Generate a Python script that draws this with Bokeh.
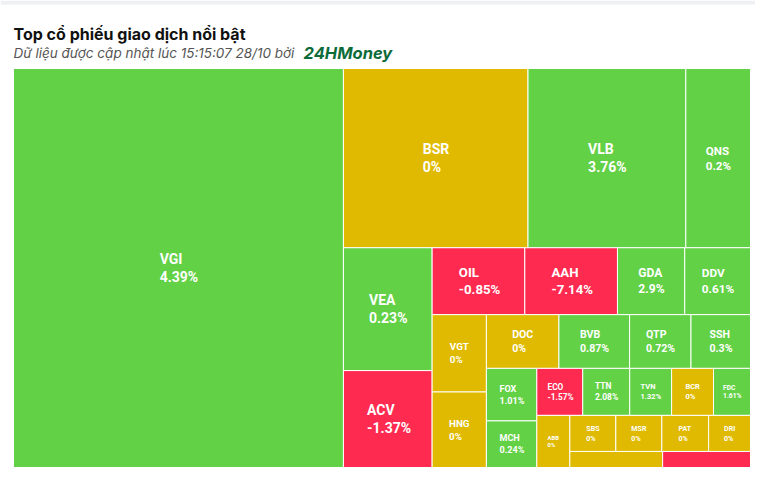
from bokeh.plotting import figure
from bokeh.models import ColumnDataSource, Range1d, BoxAnnotation
from bokeh.core.properties import value
from bokeh.embed import file_html
from bokeh.resources import INLINE

# ---------------- data ----------------
tickers = ["VGI", "BSR", "VLB", "QNS", "VEA", "ACV", "OIL", "AAH", "GDA", "DDV",
           "VGT", "HNG", "DOC", "BVB", "QTP", "SSH", "FOX", "MCH", "ECO", "TTN",
           "TVN", "BCR", "FDC", "ABB", "SBS", "MSR", "PAT", "DRI", "", ""]
volumes = [1317, 331, 283, 116, 109, 86, 62, 62, 45, 44,
           42, 41, 39, 38, 33, 32, 26.5, 23.5, 21.6, 22.1,
           19.7, 19.7, 17.4, 17.2, 16.6, 16.6, 16.9, 15.1, 14.9, 14.1]
changes = [4.39, 0, 3.76, 0.2, 0.23, -1.37, -0.85, -7.14, 2.9, 0.61,
           0, 0, 0, 0.87, 0.72, 0.3, 1.01, 0.24, -1.57, 2.08,
           1.32, 0, 1.61, 0, 0, 0, 0, 0, 0, -1.0]

title_text = "Top cổ phiếu giao dịch nổi bật"
subtitle_text = "Dữ liệu được cập nhật lúc 15:15:07 28/10 bởi"
brand_text = "24HMoney"

# ---------------- layout (Highcharts-like squarified) ----------------
TW, TH = 737.0, 399.0


class Group:
    def __init__(self, h, w, d):
        self.height, self.width, self.direction = h, w, d
        self.total = 0.0
        self.nW = self.lW = self.nH = self.lH = 0.0
        self.el = []
        self.lR = float("nan")
        self.nR = float("nan")

    def add(self, a):
        lp = self.el[-1] if self.el else None
        self.total += a
        nan = float("nan")
        if self.direction == 0:
            self.lW = self.nW
            self.nW = self.total / self.height
            if lp is not None and self.lW > 0:
                lH = lp / self.lW
                self.lR = max(self.lW / lH, lH / self.lW)
                nH = lp / self.nW
                self.nR = max(self.nW / nH, nH / self.nW)
            else:
                self.lR = self.nR = nan
        else:
            self.lH = self.nH
            self.nH = self.total / self.width
            if lp is not None and self.lH > 0:
                lW = lp / self.lH
                self.lR = max(lW / self.lH, self.lH / lW)
                nW = lp / self.nH
                self.nR = max(nW / self.nH, self.nH / nW)
            else:
                self.lR = self.nR = nan
        self.el.append(a)

    def reset(self):
        self.nW = self.lW = 0.0
        self.el = []
        self.total = 0.0


def squarified(vals, W, H):
    tot = float(sum(vals))
    areas = [W * H * v / tot for v in vals]
    rects = []
    g = Group(H, W, 0)
    pos = {"x": 0.0, "y": 0.0}

    def calc(last):
        gW, gH = g.lW, g.lH
        keep = None
        if last:
            gW, gH = g.nW, g.nH
        else:
            keep = g.el[-1]
        end = len(g.el) - 1
        for i, a in enumerate(g.el):
            if last or i < end:
                if g.direction == 0:
                    pw = gW
                    ph = a / pw
                    rects.append((pos["x"], pos["y"], pw, ph))
                    pos["y"] += ph
                else:
                    ph = gH
                    pw = a / ph
                    rects.append((pos["x"], pos["y"], pw, ph))
                    pos["x"] += pw
        g.reset()
        if g.direction == 0:
            g.width -= gW
        else:
            g.height -= gH
        pos["y"] = H - g.height
        pos["x"] = W - g.width
        g.direction = 1 - g.direction
        if not last:
            g.add(keep)

    n = len(areas)
    for i, a in enumerate(areas):
        g.add(a)
        if g.nR > g.lR:
            calc(False)
        if i == n - 1:
            calc(True)
    return rects


rects = squarified(volumes, TW, TH)

GREEN, YELLOW, RED = "#62d145", "#dfba00", "#fe2a50"

CW = {"0": .562, "1": .562, "2": .562, "3": .562, "4": .562, "5": .562, "6": .562,
      "7": .562, "8": .562, "9": .562, ".": .27, "%": .73, "-": .28,
      "A": .66, "B": .63, "C": .65, "D": .64, "E": .56, "F": .55, "G": .68, "H": .71,
      "I": .29, "J": .55, "K": .63, "L": .54, "M": .87, "N": .71, "O": .69, "P": .63,
      "Q": .69, "R": .62, "S": .60, "T": .61, "U": .65, "V": .65, "W": .88, "X": .63,
      "Y": .61, "Z": .60}


def tw(s, fs):
    return sum(CW.get(c, 0.6) for c in s) * fs


def fmt(v):
    return ("%g" % v) + "%"


left, right, top, bottom, colors = [], [], [], [], []
lx, ly, lt, lfs = [], [], [], []
for (x, y, w, h), t, c in zip(rects, tickers, changes):
    left.append(x); right.append(x + w); top.append(y); bottom.append(y + h)
    colors.append(GREEN if c > 0 else (YELLOW if c == 0 else RED))
    if h < 20 or not t:
        continue
    fs = min(14.0, 0.18 * min(w, 1.1 * h))
    pct = fmt(c)
    bw = max(tw(t, fs), tw(pct, fs))
    cx, cy = x + w / 2, y + h / 2
    x0 = cx - bw / 2
    lx += [x0, x0]
    ly += [cy - 0.65 * fs, cy + 0.65 * fs]
    lt += [t, pct]
    lfs += ["%.1fpx" % fs, "%.1fpx" % fs]

cells = ColumnDataSource(dict(left=left, right=right, top=top, bottom=bottom, color=colors))
labels = ColumnDataSource(dict(x=lx, y=ly, text=lt, fs=lfs))

p = figure(width=755, height=468, output_backend="svg", toolbar_location=None,
           x_range=Range1d(-13, 742), y_range=Range1d(400, -68),
           min_border=0, min_border_left=0, min_border_right=0,
           min_border_top=0, min_border_bottom=0)
p.axis.visible = False
p.grid.visible = False
p.outline_line_color = None
p.background_fill_color = "white"
p.border_fill_color = "white"

# thin grey page strip at the very top
p.add_layout(BoxAnnotation(top_units="screen", bottom_units="screen",
                           top=468, bottom=464, fill_color="#eef0f3",
                           fill_alpha=1, line_color=None))

p.quad(left="left", right="right", top="top", bottom="bottom", source=cells,
       fill_color="color", line_color="white", line_width=1)
p.text(x="x", y="y", text="text", source=labels, text_font=value("Roboto"),
       text_font_style="bold", text_font_size="fs", text_color="white",
       text_align="left", text_baseline="middle")

p.text(x=[0], y=[-35], text=[title_text], text_font=value("Inter"),
       text_font_style="bold", text_font_size="16px", text_color="#111111",
       text_align="left", text_baseline="alphabetic")
p.text(x=[0], y=[-16], text=[subtitle_text], text_font=value("Inter"),
       text_font_style="italic", text_font_size="13.5px", text_color="#555555",
       text_align="left", text_baseline="alphabetic")
p.text(x=[290], y=[-16], text=[brand_text], text_font=value("Inter"),
       text_font_style="bold italic", text_font_size="16.5px", text_color="#0d6b3a",
       text_align="left", text_baseline="alphabetic")

open("out.html", "w").write(file_html(p, INLINE))
